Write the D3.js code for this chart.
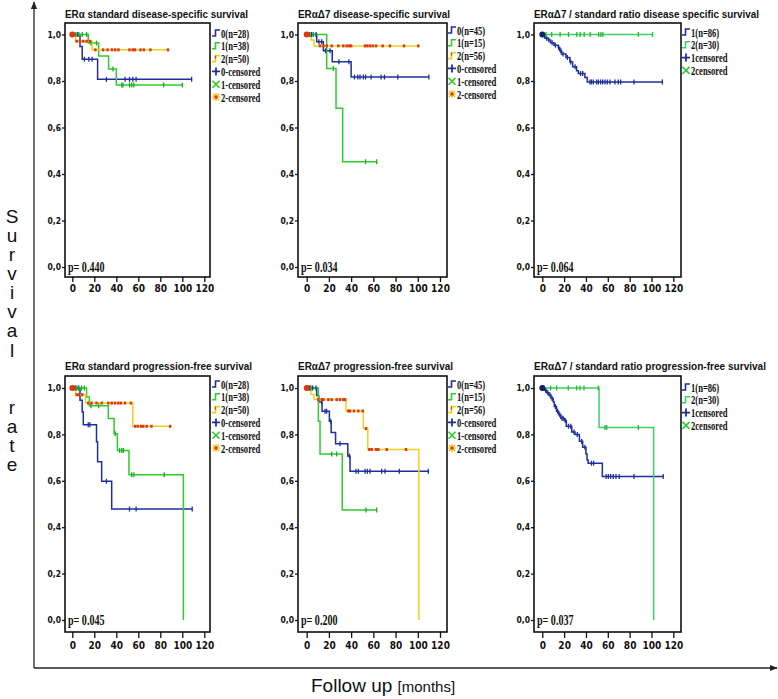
<!DOCTYPE html>
<html><head><meta charset="utf-8">
<script src="https://cdn.jsdelivr.net/npm/d3@7/dist/d3.min.js"></script>
<style>body{margin:0;background:#fff} svg{display:block}</style>
</head><body><svg id="c" width="778" height="699"></svg>
<script>
// ---------- data ----------
const xTicks = [0, 20, 40, 60, 80, 100, 120];
const yTicks = [0, 0.2, 0.4, 0.6, 0.8, 1.0];
const yTickLabels = ["0,0", "0,2", "0,4", "0,6", "0,8", "1,0"];
const titles = [
  "ERα standard disease-specific survival",
  "ERαΔ7 disease-specific survival",
  "ERαΔ7 / standard ratio disease specific survival",
  "ERα standard progression-free survival",
  "ERαΔ7 progression-free survival",
  "ERαΔ7 / standard ratio progression-free  survival"
];
const pValues = ["p= 0.440", "p= 0.034", "p= 0.064", "p= 0.045", "p= 0.200", "p= 0.037"];
const legendStd = ["0(n=28)", "1(n=38)", "2(n=50)", "0-censored", "1-censored", "2-censored"];
const legendD7 = ["0(n=45)", "1(n=15)", "2(n=56)", "0-censored", "1-censored", "2-censored"];
const legendRatio = ["1(n=86)", "2(n=30)", "1censored", "2censored"];
const axisLabelY = "Survival  rate";

// Kaplan-Meier curves: steps [month, survival], end month, censored months
const dssStd0 = { steps: [[0,1],[7,0.948],[9,0.894],[23,0.807]], end: 108.5, cens: [3,5,11,15,18,31,48,52,55,58] };
const dssStd1 = { steps: [[0,1],[14.5,0.963],[24,0.908],[33,0.852],[40,0.783]], end: 100, cens: [3,6,9,13,17,22,37,45,46,52,54,56,83] };
const dssStd2 = { steps: [[0,1],[3,0.971],[18,0.934]], end: 87, cens: [4,7,10,13,16,21,28,32,36,39,42,52,55,57,62,65,71] };

const dssD70 = { steps: [[0,1],[9,0.969],[15,0.93],[23,0.883],[40,0.817]], end: 110, cens: [2.4,4.5,8.4,11,13.5,17,21,29,38,43,46,48,51,53,58,67,70,82] };
const dssD71 = { steps: [[0,1],[18,0.854],[26.4,0.683],[32.4,0.453]], end: 63, cens: [3,6,24,53] };
const dssD72 = { steps: [[0,1],[4,0.976],[6.6,0.951]], end: 100.5, cens: [1,2,12,15,18,22.5,28.5,33,36,38.4,40,52.5,54.6,57,59.4,62.4,68.4,75,87.6] };

const dssRatio1 = { steps: [[0,1],[1.5,0.993],[3,0.984],[5.5,0.976],[7.6,0.964],[10.7,0.954],[14.6,0.944],[16,0.93],[17.6,0.916],[21.7,0.901],[25.3,0.882],[27.8,0.861],[31.4,0.844],[33,0.832],[39,0.815],[41.2,0.796]], end: 110, cens: [2,4,6,9,12,15,17,19,23,26,30,35,37,43.7,45,46.7,49.8,51.3,53.4,55.3,57.4,59.5,62,66.6,69.6,71.8,84] };
const dssRatio2 = { steps: [[0,1]], end: 101, cens: [1.5,3.4,8.6,16.3,24,31.6,34.7,38.4,43.9,51.6,53.7,55.5,88] };

const pfsStd0 = { steps: [[0,1],[7,0.947],[9,0.897],[10,0.842],[22,0.768],[23,0.682],[26.7,0.598],[35.8,0.478]], end: 109, cens: [3,5.5,14.5,16,31,52,58] };
const pfsStd1 = { steps: [[0,1],[13,0.961],[15.5,0.923],[32.7,0.868],[38,0.803],[41,0.731],[51.5,0.626],[101,0]], end: 101, cens: [2.5,4,6,8.5,11,17,24,39,43,45,46.5,54,56,83.6] };
const pfsStd2 = { steps: [[0,1],[3,0.971],[12,0.935],[55,0.835]], end: 89, cens: [4,6,9,14.5,17.5,22,26.7,32.7,35.8,38.8,41.8,44.2,47.9,53.3,57,59.4,62.4,64.5,67.6,72] };

const pfsD70 = { steps: [[0,1],[9,0.968],[10.8,0.94],[13.8,0.9],[20.4,0.857],[22,0.808],[26,0.76],[37,0.707],[39,0.641]], end: 109.5, cens: [2.4,3.6,5.4,8.4,13.5,16.5,18,21.6,30,38.4,44.4,46.5,52.5,54.6,57,67.5,70.5,83.4] };
const pfsD71 = { steps: [[0,1],[10.5,0.857],[12,0.716],[32,0.474]], end: 63, cens: [1.5,3.6,22.5,27,53.4] };
const pfsD72 = { steps: [[0,1],[3.6,0.973],[6.6,0.95],[35.4,0.901],[51,0.825],[55,0.735],[101,0]], end: 101, cens: [10.5,13.5,15,19.5,22.5,27,30,33,34.5,37.5,39,42.6,46.5,50.4,53.4,56.4,58.5,62.4,64.5,72,89.4] };

const pfsRatio1 = { steps: [[0,1],[2,0.99],[4,0.98],[6,0.97],[8,0.955],[10,0.94],[11,0.92],[13,0.9],[15,0.885],[17,0.87],[20,0.86],[22,0.835],[27,0.81],[30,0.8],[34,0.77],[37,0.745],[40,0.715],[41,0.69],[42,0.676],[55,0.619]], end: 110.8, cens: [1,3,5,7,9,12,14,16,18,19,21,24,26,29,32,36,39,45,47,58.5,60.5,62.6,65,67.5,70.5,84] };
const pfsRatio2 = { steps: [[0,1],[52,0.83],[102,0]], end: 102, cens: [1.5,7.6,13.1,23.8,31.5,34.5,38.2,51.3,57.4,59,88] };

// ---------- layout ----------
const cols = [
  { left: 65, right: 210, x0: 72.3, x1: 204.3, legX: 212, legY: [33, 384] },
  { left: 298, right: 447, x0: 306.7, x1: 440, legX: 448, legY: [30, 384] },
  { left: 534, right: 681, x0: 542.3, x1: 673.3, legX: 682, legY: [32, 387] }
];
const rows = [
  { top: 23, bottom: 277, y1: 34.5, y0: 267, titleY: 18, tick: 5, pad: 3 },
  { top: 376, bottom: 632, y1: 388, y0: 620, titleY: 370, tick: 6, pad: 4 }
];
const titleWidths = [183, 152, 225, 187, 155, 232];

const BLUE = "#1f2f9f", GREEN = "#2fcc2f", YEL = "#f2d01a", RED = "#e0360c", GREEN2 = "#3ad260";

const panels = [
  { curves: [dssStd0, dssStd1, dssStd2], legend: legendStd },
  { curves: [dssD70, dssD71, dssD72], legend: legendD7 },
  { curves: [dssRatio1, dssRatio2], legend: legendRatio },
  { curves: [pfsStd0, pfsStd1, pfsStd2], legend: legendStd },
  { curves: [pfsD70, pfsD71, pfsD72], legend: legendD7 },
  { curves: [pfsRatio1, pfsRatio2], legend: legendRatio }
];

const svg = d3.select("#c");
const narrow = "'Liberation Sans Narrow','Arial Narrow','DejaVu Sans Condensed',sans-serif";
const serif = "'Liberation Serif','Times New Roman',serif";

// big axes with arrows
const defs = svg.append("defs");
defs.append("marker").attr("id", "arr").attr("viewBox", "0 0 10 10").attr("refX", 9).attr("refY", 5)
  .attr("markerWidth", 8).attr("markerHeight", 6).attr("orient", "auto")
  .append("path").attr("d", "M0,1 L10,5 L0,9 Z").attr("fill", "#222");
svg.append("line").attr("x1", 34).attr("y1", 668).attr("x2", 34).attr("y2", 2)
  .attr("stroke", "#222").attr("stroke-width", 1.3).attr("marker-end", "url(#arr)");
svg.append("line").attr("x1", 34).attr("y1", 668).attr("x2", 777).attr("y2", 668)
  .attr("stroke", "#222").attr("stroke-width", 1.3).attr("marker-end", "url(#arr)");

// Y label, stacked letters
const letters = axisLabelY.split("");
const slot = d3.scaleLinear().domain([0, letters.length - 1]).range([218, 466]);
letters.forEach((ch, i) => {
  if (ch === " ") return;
  svg.append("text").attr("x", 12).attr("y", slot(i)).attr("text-anchor", "middle")
    .attr("dominant-baseline", "middle").attr("font-family", "'Liberation Sans',Arial,sans-serif")
    .attr("font-size", 19).attr("fill", "#111").text(ch);
});
const xl = svg.append("text").attr("x", 311).attr("y", 692).attr("font-family", "'Liberation Sans',Arial,sans-serif").attr("fill", "#111");
xl.append("tspan").attr("font-size", 19).text("Follow up ");
xl.append("tspan").attr("font-size", 15).text("[months]");

function sAt(curve, t) {
  let s = 1;
  curve.steps.forEach(([tt, ss]) => { if (tt <= t) s = ss; });
  return s;
}

panels.forEach((p, i) => {
  const c = cols[i % 3], r = rows[Math.floor(i / 3)];
  const isRatio = (i % 3) === 2;
  const x = d3.scaleLinear().domain([0, 120]).range([c.x0, c.x1]);
  const y = d3.scaleLinear().domain([0, 1]).range([r.y0, r.y1]);
  const g = svg.append("g");

  // title
  g.append("text").attr("x", c.left).attr("y", r.titleY)
    .attr("font-family", "'Liberation Sans',Arial,sans-serif").attr("font-weight", "bold")
    .attr("font-size", 10.5).attr("fill", "#111")
    .attr("textLength", titleWidths[i]).attr("lengthAdjust", "spacingAndGlyphs").text(titles[i]);

  // axes
  const ax = g.append("g").attr("transform", `translate(0,${r.bottom})`)
    .call(d3.axisBottom(x).tickValues(xTicks).tickSize(r.tick).tickPadding(r.pad).tickFormat(d3.format("d")));
  const ay = g.append("g").attr("transform", `translate(${c.left},0)`)
    .call(d3.axisLeft(y).tickValues(yTicks).tickSize(3).tickPadding(1).tickFormat((d, k) => yTickLabels[k]));
  [ax, ay].forEach(a => {
    a.select(".domain").remove();
    a.selectAll("line").attr("stroke", "#111").attr("stroke-width", 1.3);
    a.selectAll("text").attr("font-family", narrow).attr("font-stretch", "condensed")
      .attr("font-weight", "bold").attr("font-size", 10).attr("fill", "#111");
  });
  ay.selectAll("text").attr("font-size", 8.5);

  // frame
  g.append("rect").attr("x", c.left).attr("y", r.top).attr("width", c.right - c.left)
    .attr("height", r.bottom - r.top).attr("fill", "none").attr("stroke", "#111").attr("stroke-width", 1.6);

  const lineCols = isRatio ? [BLUE, GREEN2] : [BLUE, GREEN, YEL];
  const censCols = isRatio ? [BLUE, "#22bb33"] : [BLUE, "#22aa22", RED];

  p.curves.forEach((cv, k) => {
    let d = `M${x(0)},${y(1)}`;
    cv.steps.slice(1).forEach(([t, s]) => { d += `H${x(t)}V${y(s)}`; });
    d += `H${x(cv.end)}`;
    g.append("path").attr("d", d).attr("fill", "none").attr("stroke", lineCols[k])
      .attr("stroke-width", 1.5);
  });
  p.curves.forEach((cv, k) => {
    const lastS = cv.steps[cv.steps.length - 1];
    const marks = cv.cens.concat([cv.end]).filter(t => !(lastS[1] === 0 && t === cv.end));
    if (k === 2) {
      g.selectAll(null).data(marks).enter().append("rect")
        .attr("x", t => x(t) - 1.2).attr("y", t => y(sAt(cv, t)) - 1.5)
        .attr("width", 2.4).attr("height", 3).attr("fill", censCols[k]);
    } else {
      g.selectAll(null).data(marks).enter().append("line")
        .attr("x1", t => x(t)).attr("x2", t => x(t))
        .attr("y1", t => y(sAt(cv, t)) - 2.5).attr("y2", t => y(sAt(cv, t)) + 2.5)
        .attr("stroke", censCols[k]).attr("stroke-width", 1.3);
    }
  });
  // start marker
  g.append("circle").attr("cx", x(0)).attr("cy", y(1)).attr("r", 3)
    .attr("fill", isRatio ? "#14206a" : RED);

  // p value
  g.append("text").attr("transform", `translate(${c.left + 3},${r.y0 + 5}) scale(0.72,1)`)
    .attr("font-family", serif).attr("font-weight", "bold").attr("font-size", 14).attr("fill", "#111")
    .text(pValues[i]);

  // legend
  const ly0 = c.legY[Math.floor(i / 3)];
  const nGroups = isRatio ? 2 : 3;
  p.legend.forEach((lab, k) => {
    const ly = ly0 + k * 12.8;
    const lg = g.append("g").attr("transform", `translate(${c.legX},${ly})`);
    if (k < nGroups) {
      lg.append("path").attr("d", "M0,3H3.5V-3H8").attr("fill", "none")
        .attr("stroke", k === 2 ? YEL : lineCols[k]).attr("stroke-width", 1.6);
      if (k === 2) lg.append("path").attr("d", "M3.5,0V-3").attr("stroke", RED).attr("stroke-width", 1.2);
    } else {
      const j = k - nGroups;
      if (j === 0) {
        lg.append("path").attr("d", "M0,0H8M4,-4V4").attr("stroke", BLUE).attr("stroke-width", 1.8);
      } else if (j === 1) {
        lg.append("path").attr("d", "M0.5,-3.5L7.5,3.5M0.5,3.5L7.5,-3.5").attr("stroke", isRatio ? "#22cc33" : "#22cc22").attr("stroke-width", 1.5);
      } else {
        lg.append("path").attr("d", "M0,0H8M4,-4V4M1,-3L7,3M1,3L7,-3").attr("stroke", "#f0b000").attr("stroke-width", 1.2);
        lg.append("circle").attr("cx", 4).attr("cy", 0).attr("r", 1.5).attr("fill", RED);
      }
    }
    lg.append("text").attr("transform", `translate(9,4.5) scale(0.66,1)`)
      .attr("font-family", serif).attr("font-weight", "bold").attr("font-size", 13).attr("fill", "#111")
      .text(lab);
  });
});
</script></body></html>
